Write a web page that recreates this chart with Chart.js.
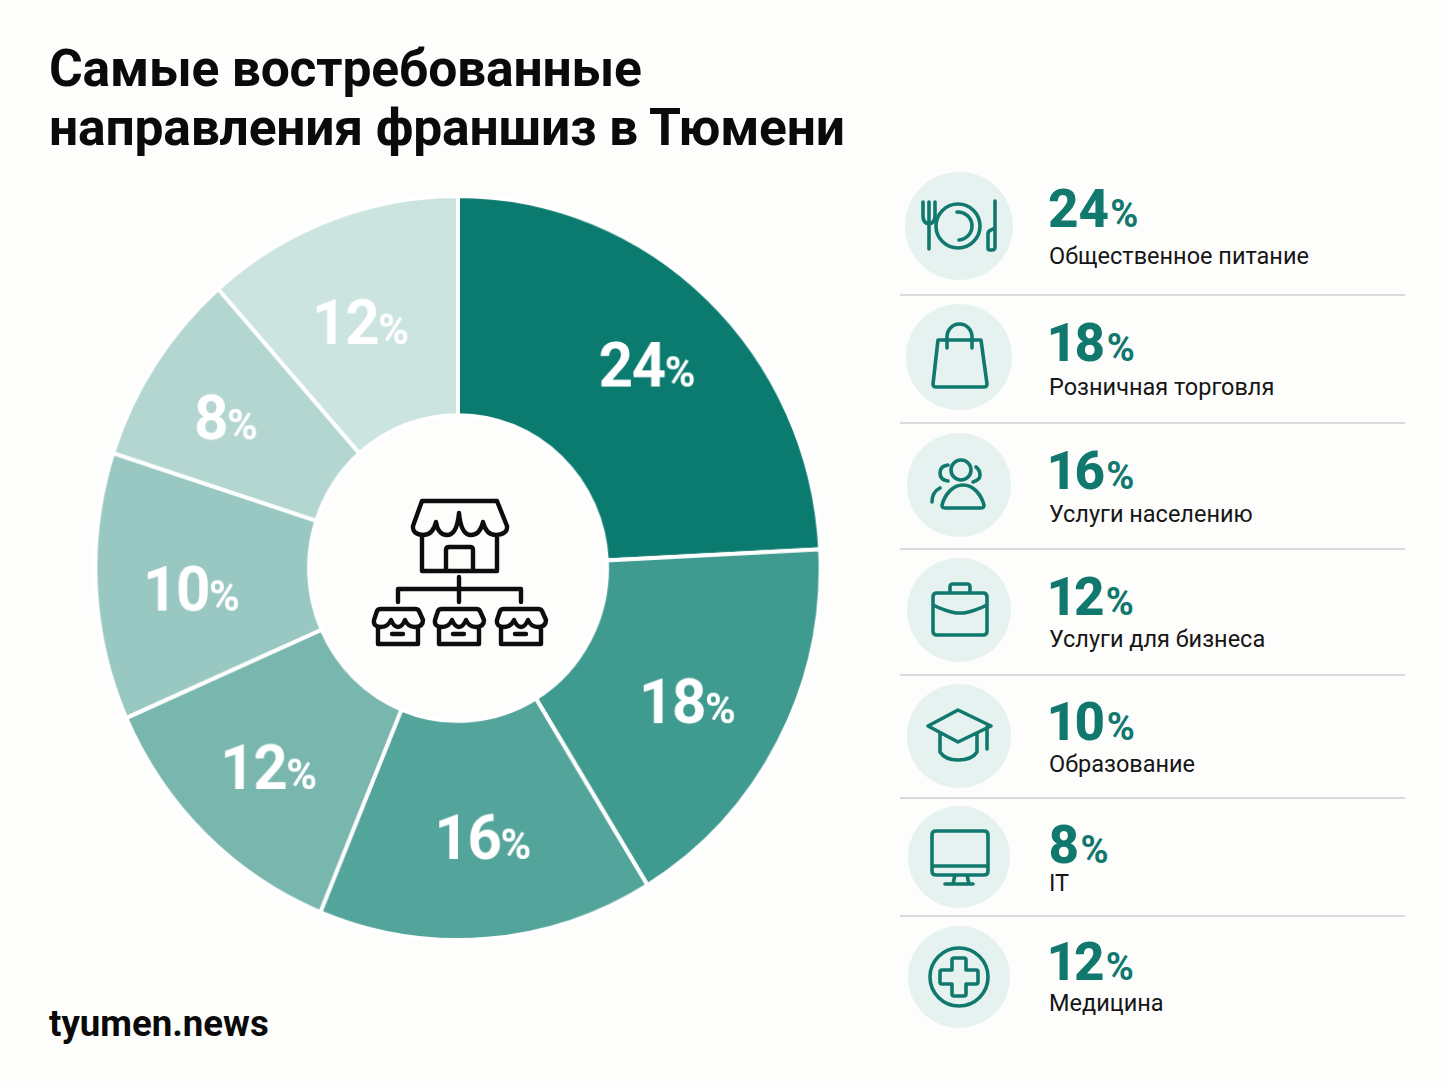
<!DOCTYPE html>
<html lang="ru">
<head>
<meta charset="utf-8">
<title>Самые востребованные направления франшиз в Тюмени</title>
<script src="https://cdn.jsdelivr.net/npm/chart.js@4"></script>
<style>
  html, body { margin: 0; padding: 0; background: #fdfdfc; }
  #page { position: relative; width: 1448px; height: 1086px; overflow: hidden; font-family: Roboto, sans-serif; color: #0a0a0a; }
  #page > * { position: absolute; }
  h1 { margin: 0; left: 49px; top: 39px; font-size: 51.6px; line-height: 59px; font-weight: 700; letter-spacing: -0.2px; white-space: nowrap; }
  #source { left: 49px; top: 1004px; font-size: 36.6px; line-height: 40px; font-weight: 700; }
  /* the pie in the picture is slightly taller than wide */
  #chartBox { left: 89px; top: 198.500px; width: 738px; height: 738px; transform: scale(0.988, 1.0137); }
  #icons { left: 0; top: 0; }
  .pct { left: 1048px; color: #11786e; font-size: 53px; line-height: 60px; font-weight: 800; white-space: nowrap; font-variant-numeric: proportional-nums; }
  .pct small { font-size: 38px; font-weight: 700; margin-left: 1px; }
  .cat { left: 1049px; font-size: 23.5px; line-height: 28px; white-space: nowrap; color: #161616; }
  .rule { left: 900px; width: 505px; height: 2px; background: #d9dbda; }
  .disc { border-radius: 50%; background: #e6f2f0; }
</style>
</head>
<body>
<div id="page">
  <h1>Самые востребованные<br>направления франшиз в Тюмени</h1>
  <div id="chartBox"><canvas id="chart" width="738" height="738"></canvas></div>
  <div id="source">tyumen.news</div>
  <div id="rows"></div>
  <svg id="icons" width="1448" height="1086" fill="none" stroke="#11786e" stroke-width="3.6" stroke-linecap="round" stroke-linejoin="round">
    <!-- plate -->
    <path d="M923 202v14q0 7 6 8q6-1 6-8v-14M929 202v47"/>
    <circle cx="958" cy="226" r="22"/>
    <path d="M957 212a14 14 0 0 1 2 28"/>
    <path d="M995 201V247q0 3-3 3h-2q-2 0-2-2V234q0-3 3-4l4-2"/>
    <!-- bag -->
    <path d="M938 340H981L987 384q0 3-3 3H936q-3 0-3-3ZM947 348V337a12.500 13 0 0 1 25 0V348"/>
    <!-- people -->
    <circle cx="961" cy="470" r="10"/>
    <path d="M945 508H981q3 0 3-3C981 494 973 485 963 485C953 485 945 494 942 505q0 3 3 3ZM948 465q-8 1-8 8t8 8M976 467q4 3 4 8t-7 7M932 502q0-10 8-14"/>
    <!-- case -->
    <path d="M937 593H983q4 0 4 4V631q0 4-4 4H937q-4 0-4-4V597q0-4 4-4ZM950 593V587q0-3 3-3H967q3 0 3 3V593M933 605Q945 611 956 613h8Q975 611 987 605"/>
    <!-- cap -->
    <path d="M958 710L928 726L958 742L991 726ZM940 733V752Q945 760 958 760Q972 760 977 752V734M987 727V749"/>
    <!-- screen -->
    <path d="M936 831H984q4 0 4 4V871q0 4-4 4H936q-4 0-4-4V835q0-4 4-4ZM932 866H988M955 875L953 884M967 875L969 884M945 884H973"/>
    <!-- cross -->
    <circle cx="959" cy="977" r="29"/>
    <path d="M952 960q0-2 2-2h10q2 0 2 2v10h10q2 0 2 2v10q0 2-2 2h-10v10q0 2-2 2h-10q-2 0-2-2v-10h-10q-2 0-2-2v-10q0-2 2-2h10Z"/>
    <!-- shops in the hole -->
    <g stroke="#0d0d0d" stroke-width="4.400">
      <path d="M422 501H497L507 526Q508 534 496 535Q486 535 483 522Q480 535 471 535Q461 535 459 513Q457 535 447 535Q438 535 436 522Q433 535 423 535Q412 534 413 526ZM422 535V571H497V535M446 571V550Q446 547 449 547H470Q473 547 473 550V571"/>
      <path d="M459 577V602M398 602V589H521V602"/>
      <g id="miniShop"><path d="M381 609H415Q418 609 419 611L423 620Q423 627 415 627Q408 627 405 620Q402 627 398 627Q394 627 391 620Q388 627 381 627Q373 627 374 620L377 611Q378 609 381 609ZM378 627V644H418V627M392 634H403"/></g>
      <use href="#miniShop" x="61"/>
      <use href="#miniShop" x="123"/>
    </g>
  </svg>
</div>
<script>
'use strict';

const categories = ['Общественное питание', 'Розничная торговля', 'Услуги населению', 'Услуги для бизнеса', 'Образование', 'IT', 'Медицина'];
// printed percentages
const percentLabels = [24, 18, 16, 12, 10, 8, 12];
const wedgeShares = [24.2, 17.05, 14.95, 12.2, 11.6, 8.5, 11.5];
const wedgeColors = ['#0b7a6f', '#3f9a8f', '#53a49b', '#79b6ae', '#98c8c1', '#b3d6d1', '#cbe4e0'];

// small hand nudges of the wedge labels, the picture does not centre them exactly
const labelNudgeX = [5, -7, 3, -4, -1, -10, -4];
const labelNudgeY = [-6, 5, -4, 3, 6, -1, 9];

// row layout: disc centre y, disc radius, percent top, category top, rule y
const rowDiscY = [226, 357, 485, 610, 736, 857, 977];
const rowDiscR = [54, 53, 52, 52, 52, 51, 51];
const rowPctTop = [179, 313, 441, 567, 692, 815, 932];
const rowCatTop = [242, 373, 500, 625, 750, 869, 989];
const ruleY = [294, 422, 548, 674, 797, 915];

const page = document.getElementById('page');
const svgLayer = document.getElementById('icons');

function addDiv(className, html, css) {
  const el = document.createElement('div');
  el.className = className;
  el.innerHTML = html;
  Object.assign(el.style, css);
  page.insertBefore(el, svgLayer);
  return el;
}

categories.forEach((name, i) => {
  const r = rowDiscR[i];
  addDiv('disc', '', { left: (959 - r) + 'px', top: (rowDiscY[i] - r) + 'px', width: 2 * r + 'px', height: 2 * r + 'px' });
  addDiv('pct', `${percentLabels[i]}<small>%</small>`, { top: rowPctTop[i] + 'px' });
  addDiv('cat', name, { top: rowCatTop[i] + 'px' });
});
ruleY.forEach(y => addDiv('rule', '', { top: y + 'px' }));

// writes the percent on each wedge, at the wedge's own mid angle
const wedgeLabels = {
  id: 'wedgeLabels',
  afterDatasetsDraw(chart) {
    const { ctx } = chart;
    chart.getDatasetMeta(0).data.forEach((arc, i) => {
      const a = arc.getProps(['x', 'y', 'startAngle', 'endAngle', 'innerRadius', 'outerRadius'], true);
      const mid = (a.startAngle + a.endAngle) / 2;
      const rad = a.innerRadius + (a.outerRadius - a.innerRadius) * 0.55;
      const x = a.x + Math.cos(mid) * rad + labelNudgeX[i];
      const y = a.y + Math.sin(mid) * rad + labelNudgeY[i];
      const num = String(percentLabels[i]);
      ctx.save();
      ctx.fillStyle = '#ffffff';
      ctx.textBaseline = 'alphabetic';
      ctx.font = '700 61px Roboto';
      ctx.letterSpacing = '-1.5px';
      const numW = ctx.measureText(num).width;
      ctx.fillText(num, x - (numW + 30) / 2, y + 22);
      ctx.letterSpacing = '0px';
      ctx.font = '700 42px Roboto';
      ctx.fillText('%', x - (numW + 30) / 2 + numW, y + 22);
      ctx.restore();
    });
  }
};

new Chart(document.getElementById('chart'), {
  type: 'doughnut',
  data: {
    labels: categories,
    datasets: [{
      data: wedgeShares,
      backgroundColor: wedgeColors,
      borderColor: '#ffffff',
      borderWidth: 4
    }]
  },
  options: {
    responsive: false,
    animation: false,
    cutout: '41.1%',
    layout: { padding: 0 },
    plugins: { legend: { display: false }, tooltip: { enabled: false } }
  },
  plugins: [wedgeLabels]
});
</script>
</body>
</html>
